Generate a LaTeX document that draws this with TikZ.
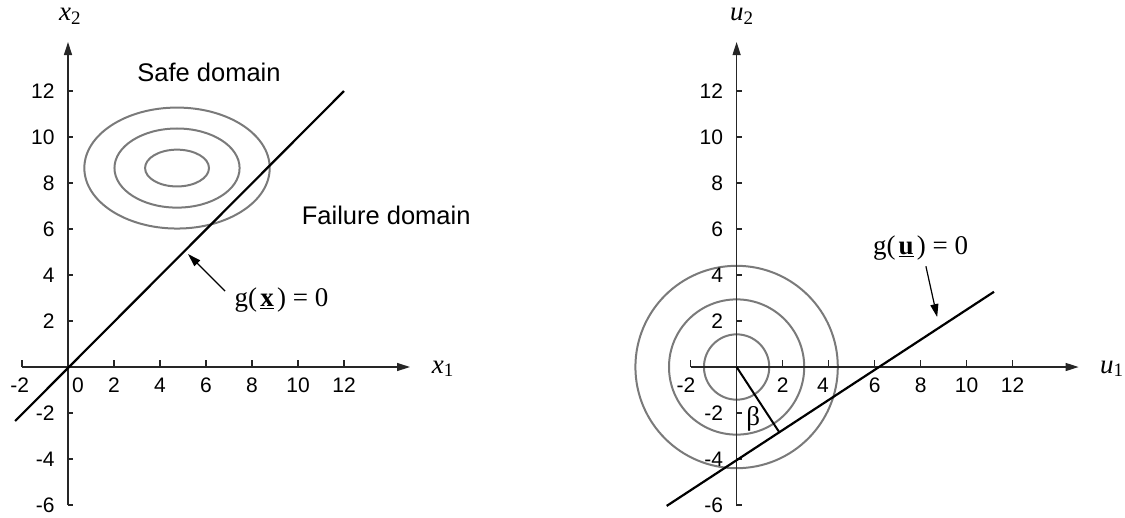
\documentclass[tikz,border=0pt]{standalone}
\usepackage{fontspec}
\setmainfont{Liberation Serif}
\newfontfamily\arialf{Liberation Sans}
\usetikzlibrary{arrows.meta,calc}
\begin{document}
\begin{tikzpicture}[x=23pt,y=23pt,
  axisline/.style={line width=1.3pt,draw=black!85,-{Triangle[length=13pt,width=8pt]}},
  tickline/.style={line width=1.2pt,draw=black!85},
  ticklab/.style={inner sep=0pt,font=\arialf\fontsize{21}{24}\selectfont},
  domlab/.style={inner sep=0pt,font=\arialf\fontsize{25.5}{28}\selectfont},
  serlab/.style={inner sep=0pt,font=\fontsize{27}{30}\selectfont},
  contour/.style={line width=2pt,draw=black!52},
  limitline/.style={line width=2.2pt,draw=black},
  pointer/.style={line width=1.2pt,draw=black,-{Triangle[length=13pt,width=8pt]}}]
\useasboundingbox (-2.957,-6.522) rectangle (45.957,15.957);

% ---------------- left plot ----------------
\begin{scope}
  \coordinate (LO) at (0,0);
  \draw[contour] (4.74,8.65) ellipse [x radius=4.03,y radius=2.63];
  \draw[contour] (4.74,8.65) ellipse [x radius=2.72,y radius=1.72];
  \draw[contour] (4.74,8.65) ellipse [x radius=1.39,y radius=0.80];
  \coordinate (LA) at (-2.3,-2.35);
  \coordinate (LB) at (12,12);
  \draw[axisline] (-2,0) -- (14.87,0);
  \draw[axisline] (0,-6) -- (0,14.13);
  \foreach \x in {-2,2,4,...,12} \draw[tickline] (\x,0) -- ++(0,7pt);
  \foreach \y in {-6,-4,-2,2,4,...,12} \draw[tickline] (0,\y) -- ++(5pt,0);
  \draw[limitline] (LA) -- (LB);
  \foreach \x in {2,4,...,12} \node[ticklab,anchor=north] (Lx\x) at (\x,-0.45) {\x};
  \node[ticklab,anchor=north] (Lxm2) at (-2.1,-0.45) {-2};
  \node[ticklab,anchor=north] (Lx0) at (0.43,-0.45) {0};
  \foreach \y in {-6,-4,-2,2,4,...,12} \node[ticklab,anchor=east] (Ly\y) at (-0.58,\y) {\y};
  \node[serlab,anchor=base west] (Lx1) at (15.81,-0.27) {\textit{x}\raisebox{-0.3ex}{\fontsize{19}{19}\selectfont 1}};
  \node[serlab,anchor=base west] (Lx2) at (-0.39,15.06) {\textit{x}\raisebox{-0.3ex}{\fontsize{19}{19}\selectfont 2}};
  \node[domlab] (safe) at (6.13,12.83) {Safe domain};
  \node[domlab,anchor=west] (fail) at (10.16,6.61) {Failure domain};
  \node[serlab] (gx) at (9.28,2.91) {g(\kern0.12em\underline{\textbf{x}}\kern0.12em) = 0};
  \coordinate (gxtail) at (6.83,3.3);
  \coordinate (gxtip) at (5.22,4.91);
  \draw[pointer] (gxtail) -- (gxtip);
\end{scope}

% ---------------- right plot ----------------
\begin{scope}[shift={(29.07,0)}]
  \coordinate (RO) at (0,0);
  \draw[contour] (RO) circle [radius=4.4];
  \draw[contour] (RO) circle [radius=2.94];
  \draw[contour] (RO) circle [radius=1.42];
  \draw[axisline] (-2,0) -- (14.87,0);
  \draw[axisline] (0,-6.05) -- (0,14.13);
  \foreach \x in {-2,2,4,...,12} \draw[tickline] (\x,0) -- ++(0,7pt);
  \foreach \y in {-6,-4,-2,2,4,...,12} \draw[tickline] (0,\y) -- ++(5pt,0);
  \coordinate (RA) at (-3.04,-6.04);
  \coordinate (RB) at (11.19,3.27);
  \draw[limitline] (RA) -- (RB);
  \coordinate (RF) at ($(RA)!(RO)!(RB)$);
  \draw[limitline,line width=2pt] (RO) -- (RF);
  \foreach \x in {2,6,8,10,12} \node[ticklab,anchor=north] (Rx\x) at (\x,-0.45) {\x};
  \node[ticklab,anchor=north] (Rx4) at (3.75,-0.45) {4};
  \node[ticklab,anchor=north] (Rxm2) at (-2.2,-0.45) {-2};
  \foreach \y in {-6,-4,-2,2,4,...,12} \node[ticklab,anchor=east] (Ry\y) at (-0.58,\y) {\y};
  \node[serlab,anchor=base west] (Ru1) at (15.8,-0.27) {\textit{u}\raisebox{-0.3ex}{\fontsize{19}{19}\selectfont 1}};
  \node[serlab,anchor=base west] (Ru2) at (-0.29,15.06) {\textit{u}\raisebox{-0.3ex}{\fontsize{19}{19}\selectfont 2}};
  \node[serlab] (beta) at (0.72,-2.27) {β};
  \node[serlab] (gu) at (8.0,5.18) {g(\kern0.12em\underline{\textbf{u}}\kern0.12em) = 0};
  \coordinate (gutail) at (8.23,4.38);
  \coordinate (gutip) at (8.72,2.17);
  \draw[pointer] (gutail) -- (gutip);
\end{scope}
\end{tikzpicture}
\end{document}
